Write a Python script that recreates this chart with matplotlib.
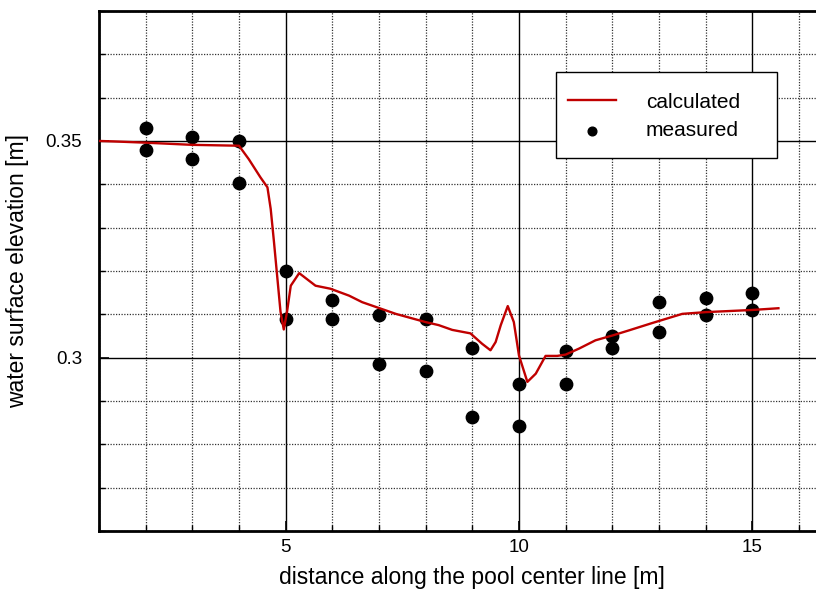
import matplotlib
matplotlib.use("Agg")
import matplotlib.pyplot as plt
from matplotlib.patches import Rectangle
from matplotlib.ticker import MultipleLocator

plt.rcParams['font.family'] = ['Liberation Sans', 'DejaVu Sans']

# computed water surface along the pool center line
calc_x = [1.0, 1.3, 2.0, 3.0, 4.0, 4.21, 4.46, 4.61, 4.68, 4.75, 4.83, 4.89,
          4.96, 5.03, 5.11, 5.29, 5.64, 5.96, 6.36, 6.64, 7.36, 8.0, 8.28,
          8.57, 8.96, 9.21, 9.39, 9.5, 9.61, 9.76, 9.89, 10.0, 10.18, 10.36,
          10.57, 10.82, 11.0, 11.29, 11.64, 12.0, 12.36, 12.86, 13.5, 14.0,
          15.0, 15.56]
calc_y = [0.3500, 0.3499, 0.3496, 0.3491, 0.3489, 0.3458, 0.3416, 0.3393,
          0.3343, 0.3267, 0.3175, 0.3106, 0.3065, 0.3106, 0.3166, 0.3195,
          0.3166, 0.3159, 0.3143, 0.3128, 0.3101, 0.3082, 0.3075, 0.3064,
          0.3056, 0.3032, 0.3017, 0.3036, 0.3075, 0.3119, 0.3082, 0.3005,
          0.2944, 0.2963, 0.3004, 0.3004, 0.3007, 0.3021, 0.3040, 0.3051,
          0.3063, 0.3080, 0.3101, 0.3105, 0.3110, 0.3114]

# gauge readings, two per station
meas_x = [2, 2, 3, 3, 4, 4, 5, 5, 6, 6, 7, 7, 8, 8,
          9, 9, 10, 10, 11, 11, 12, 12, 13, 13, 14, 14, 15, 15]
meas_y = [0.3529, 0.3479, 0.3509, 0.3459, 0.3501, 0.3402, 0.3199, 0.3090,
          0.3132, 0.3090, 0.3099, 0.2986, 0.3090, 0.2970, 0.3022, 0.2864,
          0.2940, 0.2842, 0.3015, 0.2940, 0.3051, 0.3022, 0.3129, 0.3060,
          0.3137, 0.3099, 0.3149, 0.3111]

fig = plt.figure(figsize=(8.16, 5.95), dpi=100)
ax = fig.add_axes([0.1213, 0.1076, 0.915, 0.874])

ax.scatter(meas_x, meas_y, s=80, color='black', zorder=3, label='measured')
ax.plot(calc_x, calc_y, color='#c00000', lw=1.7, zorder=4, label='calculated')

ax.set_xlim(1, 17)
ax.set_ylim(0.26, 0.38)
ax.xaxis.set_major_locator(MultipleLocator(5))
ax.xaxis.set_minor_locator(MultipleLocator(1))
ax.yaxis.set_major_locator(MultipleLocator(0.05))
ax.yaxis.set_minor_locator(MultipleLocator(0.01))
ax.set_yticks([0.3, 0.35])
ax.set_yticklabels(['0.3', '0.35'])

ax.grid(which='major', color='black', lw=1.0, ls='-', zorder=1)
ax.grid(which='minor', color='#333333', lw=0.9, ls=(0, (1, 1.2)), zorder=1)
ax.set_axisbelow(True)

for side in ax.spines.values():
    side.set_linewidth(2)
ax.tick_params(which='both', direction='in', top=False, right=False)
ax.tick_params(which='major', length=7, width=1.2, labelsize=13.5)
ax.tick_params(which='minor', length=4, width=1)
ax.tick_params(axis='x', which='major', pad=6)
ax.tick_params(axis='y', which='major', pad=12)

ax.set_xlabel('distance along the pool center line [m]', fontsize=16.5, labelpad=7)
ax.set_ylabel('water surface elevation [m]', fontsize=16.5, labelpad=12)

# legend box
box = Rectangle((556 / 816, 1 - 158 / 595), 221 / 816, 86 / 595,
                transform=fig.transFigure, facecolor='white',
                edgecolor='black', lw=1, zorder=5)
fig.patches.append(box)
handles, labels = ax.get_legend_handles_labels()
leg = fig.legend(handles[::-1], labels[::-1], loc='upper left',
                 bbox_to_anchor=(549 / 816, 1 - 74 / 595), frameon=False,
                 fontsize=15, handlelength=2.3, handletextpad=1.45,
                 labelspacing=0.45, markerscale=0.7)
leg.set_zorder(6)

fig.savefig('out.png', dpi=100)
